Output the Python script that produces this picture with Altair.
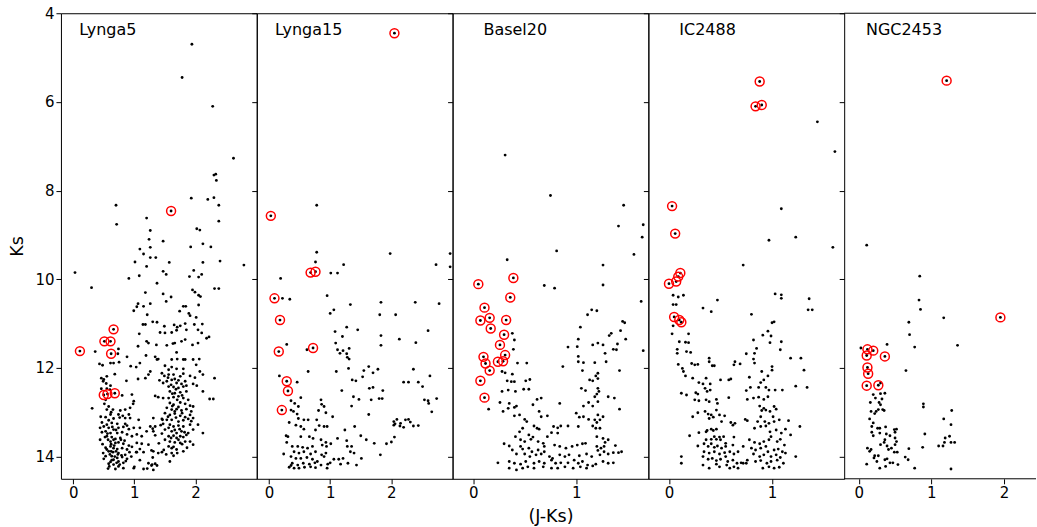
import altair as alt
import pandas as pd

FONT = "DejaVu Sans"
PANEL_H = 466

# ---------------- Lynga5 ----------------
lynga5_stars = [
    (1.94, 4.70), (1.78, 5.45), (2.28, 6.10), (2.62, 7.27), (2.30, 7.65), (2.33, 7.63), (2.34, 7.77),
    (1.93, 8.17), (2.20, 8.20), (2.30, 8.16), (2.38, 8.33), (0.70, 8.33), (0.71, 8.76), (1.20, 8.62),
    (1.26, 8.90), (1.24, 9.10), (2.38, 8.69), (2.02, 8.86), (2.07, 8.89), (1.47, 9.14), (1.09, 9.32),
    (1.26, 9.28), (1.15, 9.43), (2.12, 9.20), (2.25, 9.27), (1.92, 9.27), (1.26, 9.51), (1.35, 9.51),
    (1.57, 9.62), (1.20, 9.71), (1.01, 9.61), (1.97, 9.80), (2.12, 9.62), (2.40, 9.59), (2.79, 9.68),
    (1.47, 9.82), (1.52, 9.89), (1.08, 9.92), (2.05, 9.95), (2.10, 9.89), (1.90, 9.94), (0.91, 9.98),
    (1.37, 10.09), (0.03, 9.85), (0.30, 10.19), (2.31, 10.21), (2.38, 10.21), (1.95, 10.24), (1.99, 10.29),
    (2.05, 10.36), (2.08, 10.39), (1.18, 10.30), (1.47, 10.33), (1.60, 10.40), (1.52, 10.50), (1.06, 10.55),
    (1.04, 10.62), (0.99, 10.71), (1.15, 10.61), (1.26, 10.55), (1.21, 10.80), (1.80, 10.61), (1.84, 10.61),
    (1.74, 10.72), (1.89, 10.77), (1.91, 10.82), (2.05, 10.58), (2.01, 10.86), (1.14, 11.02), (1.18, 11.02),
    (1.30, 10.96), (1.37, 10.97), (1.49, 11.06), (1.65, 11.03), (1.70, 11.08), (1.75, 11.05), (1.83, 11.00),
    (1.98, 11.02), (2.11, 11.01),
    # red giant clump / upper branch
    (1.42, 11.20), (1.50, 11.21), (1.61, 11.20), (1.69, 11.15), (1.85, 11.14), (2.04, 11.14), (2.10, 11.21),
    (2.18, 11.33), (2.22, 11.30), (1.20, 11.40), (1.23, 11.44), (1.36, 11.48), (1.53, 11.49), (1.63, 11.45),
    (1.66, 11.44), (1.77, 11.40), (1.83, 11.36), (1.95, 11.48), (2.04, 11.44), (1.19, 11.72), (1.34, 11.75),
    (1.37, 11.81), (1.39, 11.80), (1.61, 11.81), (1.70, 11.80), (1.80, 11.81), (1.83, 11.81), (1.96, 11.81),
    (2.06, 11.80), (1.69, 11.65), (1.09, 11.89), (2.31, 12.23), (2.01, 11.93), (1.99, 12.22),
    # red sequence
    (1.50, 11.95), (1.61, 11.98), (1.69, 12.02), (1.80, 12.02), (1.56, 12.04), (1.45, 12.12), (1.49, 12.18),
    (1.56, 12.15), (1.64, 12.15), (1.75, 12.19), (1.80, 12.13), (1.91, 12.18), (2.07, 12.08), (2.12, 12.15),
    (1.26, 12.08), (1.18, 12.23), (1.23, 12.15), (1.41, 12.28), (1.47, 12.34), (1.53, 12.30), (1.61, 12.27),
    (1.69, 12.34), (1.77, 12.36), (1.83, 12.30), (1.96, 12.36), (2.02, 12.40), (1.56, 12.42), (1.64, 12.43),
    (1.72, 12.45), (1.80, 12.42), (1.58, 12.53), (1.66, 12.57), (1.75, 12.55), (1.85, 12.53), (1.34, 12.63),
    (1.39, 12.66), (1.47, 12.68), (1.56, 12.68), (1.64, 12.66), (1.72, 12.64), (1.80, 12.68), (2.12, 12.53),
    (2.23, 12.70), (2.29, 12.70), (1.58, 12.79), (1.64, 12.83), (1.75, 12.78), (1.83, 12.81), (1.91, 12.85),
    (1.53, 12.90), (1.61, 12.94), (1.69, 12.93), (1.77, 12.96), (1.85, 12.93), (1.93, 12.98), (1.96, 12.87),
    (1.50, 13.02), (1.58, 13.06), (1.66, 13.03), (1.75, 13.08), (1.83, 13.11), (1.91, 13.06), (1.45, 13.15),
    (1.53, 13.17), (1.61, 13.17), (1.72, 13.21), (1.80, 13.18), (1.88, 13.15), (1.96, 13.13), (1.31, 13.13),
    (1.26, 13.32), (1.34, 13.32), (1.47, 13.26), (1.58, 13.28), (1.64, 13.32), (1.72, 13.30), (1.80, 13.32),
    (1.91, 13.28), (2.04, 13.28), (1.20, 13.43), (1.31, 13.43), (1.50, 13.39), (1.61, 13.43), (1.69, 13.47),
    (1.77, 13.43), (1.88, 13.47), (1.96, 13.39), (2.12, 13.47), (1.56, 13.54), (1.64, 13.53), (1.69, 13.58),
    (1.75, 13.54), (1.80, 13.56), (1.85, 13.51), (1.50, 13.62), (1.58, 13.66), (1.66, 13.68), (1.75, 13.69),
    (1.83, 13.66), (1.91, 13.66), (1.96, 13.73), (1.23, 13.73), (1.12, 13.71), (1.56, 13.77), (1.61, 13.81),
    (1.69, 13.84), (1.80, 13.88), (1.31, 13.88), (1.39, 13.92), (1.45, 13.90), (1.61, 13.92), (1.64, 13.98),
    (1.58, 14.11), (1.23, 14.15), (1.29, 14.18), (1.34, 14.16), (1.31, 14.30),
    (1.55, 12.22), (1.66, 12.25), (1.72, 12.28), (1.60, 12.38), (1.68, 12.48), (1.62, 12.58), (1.78, 12.62),
    (1.70, 12.72), (1.62, 12.86), (1.72, 12.88), (1.66, 12.98), (1.78, 13.02), (1.55, 13.10), (1.68, 13.12),
    (1.74, 13.38), (1.56, 13.35), (1.66, 13.40), (1.82, 13.45), (1.60, 13.58), (1.72, 13.62), (1.78, 13.72),
    (1.64, 13.78), (1.70, 13.92), (1.52, 13.95), (1.86, 13.80), (1.45, 13.48), (1.40, 13.70), (1.48, 13.85),
    (1.88, 12.72), (1.93, 13.20), (1.85, 12.40),
    (1.15, 14.28), (1.21, 14.27), (1.28, 14.20), (1.37, 14.20), (1.30, 14.02), (1.09, 14.08), (1.00, 14.23),
    (1.03, 13.90), (1.09, 13.83), (1.15, 13.90), (1.28, 13.86), (1.30, 13.37), (1.34, 13.52), (1.43, 13.29),
    (1.46, 13.17), (1.09, 13.35), (1.12, 13.54),
    # blue main sequence
    (1.08, 11.23), (1.06, 11.51), (0.36, 11.63), (0.74, 11.57), (0.73, 11.68), (0.88, 11.75), (0.43, 11.91),
    (0.48, 11.94), (0.61, 11.89), (0.66, 11.89), (0.75, 11.87), (0.94, 11.96), (1.03, 11.98), (0.68, 12.14),
    (1.06, 12.25), (0.87, 12.29), (0.55, 12.19), (0.46, 12.23), (0.50, 12.26), (0.49, 12.30), (0.54, 12.35),
    (0.61, 12.40), (0.46, 12.47), (0.55, 12.47), (0.60, 12.49), (0.96, 12.60), (0.80, 12.62), (0.53, 12.72),
    (0.51, 12.81), (0.58, 12.87), (0.31, 12.91), (0.55, 12.94), (0.65, 12.94), (0.77, 12.96), (0.85, 12.94),
    (0.93, 12.90), (0.98, 12.81), (0.99, 12.75), (0.61, 13.05), (0.74, 13.05), (0.81, 13.08), (0.91, 13.05),
    (0.53, 13.11), (0.66, 13.14), (0.85, 13.13), (0.93, 13.13), (1.07, 13.17), (0.47, 13.23), (0.55, 13.28),
    (0.63, 13.24), (0.72, 13.26), (0.85, 13.26), (0.50, 13.32), (0.44, 13.35), (0.58, 13.35), (0.66, 13.39),
    (0.74, 13.35), (0.82, 13.33), (0.91, 13.38), (0.99, 13.35), (0.53, 13.43), (0.61, 13.47), (0.72, 13.47),
    (0.80, 13.45), (0.88, 13.50), (0.96, 13.54), (1.04, 13.50), (0.44, 13.62), (0.55, 13.54), (0.63, 13.56),
    (0.69, 13.60), (0.77, 13.58), (0.61, 13.66), (0.69, 13.69), (0.74, 13.68), (0.82, 13.71), (0.91, 13.75),
    (1.04, 13.69), (0.61, 13.77), (0.66, 13.81), (0.72, 13.83), (0.80, 13.81), (0.88, 13.84), (0.96, 13.78),
    (0.49, 13.92), (0.58, 13.88), (0.65, 13.90), (0.74, 13.92), (0.85, 13.96), (1.04, 13.90), (0.53, 13.99),
    (0.63, 13.99), (0.72, 14.03), (0.80, 14.01), (0.88, 14.05), (0.66, 14.07), (0.74, 14.11), (0.82, 14.14),
    (0.58, 14.16), (0.66, 14.18), (0.74, 14.22), (0.82, 14.26), (0.99, 14.26),
    (0.57, 13.62), (0.62, 13.72), (0.67, 13.75), (0.70, 13.88), (0.60, 13.95), (0.68, 14.00), (0.63, 14.08),
    (0.71, 14.14), (0.59, 14.22), (0.69, 14.28), (0.76, 14.18), (0.55, 13.84), (0.52, 13.56), (0.64, 13.33),
    (0.58, 13.18), (0.70, 13.40), (0.78, 13.62), (0.62, 13.00), (0.56, 13.48), (0.66, 13.62), (0.73, 13.95),
    (0.61, 14.12), (0.48, 13.72), (0.53, 13.80), (0.50, 14.05), (0.57, 14.27), (0.79, 13.97), (0.84, 13.64),
    (0.88, 13.30), (0.76, 13.12), (0.86, 14.10), (0.95, 14.00), (0.92, 13.90), (0.47, 13.45), (0.45, 13.10),
    (0.62, 13.88),
]
lynga5_flagged = [
    (1.60, 8.46), (0.66, 11.13), (0.51, 11.40), (0.61, 11.40), (0.11, 11.62), (0.62, 11.68),
    (0.50, 12.61), (0.56, 12.59), (0.68, 12.57),
]

# ---------------- Lynga15 ----------------
lynga15_stars = [
    (0.78, 8.33), (0.78, 9.39), (0.76, 9.61), (0.19, 9.98), (1.01, 9.86), (1.12, 9.86), (1.22, 9.67),
    (1.98, 9.42), (2.96, 9.42), (2.96, 9.72), (2.73, 9.67), (0.22, 10.43), (0.34, 10.45), (0.95, 10.37),
    (1.33, 10.57), (1.06, 10.69), (1.00, 10.77), (1.83, 10.52), (1.81, 10.80), (2.07, 10.80), (2.39, 10.52),
    (2.78, 10.55), (1.27, 11.08), (1.20, 11.29), (1.45, 11.14), (1.08, 11.18), (1.83, 11.27), (2.60, 11.16),
    (0.29, 11.47), (0.62, 11.59), (1.09, 11.44), (1.83, 11.49), (2.40, 11.43), (2.13, 11.35),
    (1.12, 11.59), (1.16, 11.67), (1.21, 11.61), (1.31, 11.56), (1.27, 11.68), (1.28, 11.76), (1.31, 11.80),
    (1.10, 12.08), (0.64, 12.08), (1.30, 12.01), (1.63, 11.97), (1.55, 12.06), (1.53, 12.20), (1.70, 12.11),
    (1.78, 12.03), (2.36, 12.03), (2.63, 12.18), (1.36, 12.27), (1.42, 12.29), (2.20, 12.32), (2.28, 12.32),
    (2.44, 12.32), (2.51, 12.42), (1.19, 12.51), (1.64, 12.46), (1.70, 12.44), (1.86, 12.51), (1.38, 12.65),
    (1.47, 12.71), (1.67, 12.72), (1.80, 12.69), (1.85, 12.69), (1.35, 12.86), (2.54, 12.72), (2.60, 12.74),
    (2.61, 12.80), (2.74, 12.69), (2.66, 12.99), (1.63, 13.05), (0.46, 12.32), (0.17, 12.18), (0.36, 12.74),
    (0.42, 12.80), (0.52, 12.67), (0.48, 12.87), (0.85, 12.72), (0.86, 12.82), (0.90, 12.87), (0.81, 12.96),
    (0.93, 13.01), (1.04, 13.10), (0.36, 12.95), (0.40, 12.98), (0.46, 13.04), (0.48, 13.14), (0.57, 13.17),
    (0.64, 13.17), (0.33, 13.23), (0.44, 13.29), (0.52, 13.32), (0.57, 13.38), (0.78, 13.17), (0.82, 13.30),
    (0.90, 13.32), (0.95, 13.32), (0.76, 13.40), (1.24, 13.40), (1.40, 13.32), (1.50, 13.53), (1.59, 13.62),
    (1.72, 13.70), (1.92, 13.71), (2.00, 13.67), (2.05, 13.56), (2.04, 13.29), (2.04, 13.21), (2.09, 13.16),
    (2.15, 13.25), (2.20, 13.34), (2.28, 13.16), (2.31, 13.22), (2.36, 13.31), (2.44, 13.30), (2.23, 13.17),
    (2.14, 13.31), (2.06, 13.26), (0.28, 13.53), (0.31, 13.55), (0.52, 13.55), (0.66, 13.55), (0.72, 13.59),
    (0.85, 13.62), (0.93, 13.68), (1.01, 13.71), (1.12, 13.59), (1.27, 13.64), (1.28, 13.77), (0.29, 13.68),
    (0.38, 13.77), (0.47, 13.77), (0.55, 13.79), (0.63, 13.81), (0.71, 13.77), (0.87, 13.74), (0.94, 13.77),
    (1.35, 13.77), (1.33, 13.89), (0.41, 13.89), (0.49, 13.92), (0.57, 13.89), (0.68, 13.94), (0.76, 13.89),
    (0.86, 13.96), (0.93, 13.92), (0.24, 13.94), (1.39, 13.92), (1.82, 13.96), (0.36, 14.00), (0.44, 14.04),
    (0.52, 14.04), (0.62, 14.02), (0.71, 14.06), (0.79, 14.11), (0.90, 14.00), (1.06, 14.06), (1.14, 14.06),
    (1.21, 14.04), (1.51, 14.04), (0.38, 14.15), (0.47, 14.19), (0.56, 14.15), (0.66, 14.17), (0.75, 14.14),
    (0.85, 14.19), (0.96, 14.17), (1.00, 14.14), (1.17, 14.17), (1.29, 14.15), (1.43, 14.19), (0.33, 14.24),
    (0.41, 14.26), (0.49, 14.26), (0.58, 14.24), (0.68, 14.23), (0.76, 14.25), (0.95, 14.26), (0.36, 14.20),
]
lynga15_flagged = [
    (2.05, 4.45), (0.03, 8.57), (0.68, 9.85), (0.76, 9.83), (0.09, 10.43), (0.18, 10.92),
    (0.16, 11.63), (0.72, 11.55), (0.29, 12.30), (0.31, 12.52), (0.21, 12.95),
]

# ---------------- Basel20 ----------------
basel20_stars = [
    (0.31, 7.20), (0.75, 8.11), (1.46, 8.33), (0.81, 9.36), (0.33, 9.56), (1.41, 8.80), (1.65, 8.77),
    (1.64, 9.05), (1.56, 9.44), (1.26, 9.68), (1.26, 10.13), (0.69, 10.14), (0.79, 10.20),
    (1.63, 10.50), (1.15, 10.69), (1.20, 10.71), (1.11, 10.80), (1.04, 11.08), (1.45, 10.95), (1.47, 10.98),
    (1.43, 11.16), (1.34, 11.22), (1.32, 11.27), (1.02, 11.35), (1.48, 11.35), (1.21, 11.44), (1.16, 11.48),
    (1.26, 11.48), (1.40, 11.46), (0.92, 11.53), (1.01, 11.52), (1.36, 11.58), (1.39, 11.59), (1.28, 11.67),
    (1.65, 11.61), (0.39, 11.58), (1.02, 11.74), (1.02, 11.86), (1.07, 11.88), (1.18, 11.88), (1.29, 11.86),
    (0.43, 11.89), (0.52, 11.89), (0.87, 11.97), (1.06, 12.06), (1.21, 12.12), (1.19, 12.18), (1.21, 12.24),
    (1.16, 12.29), (1.13, 12.27), (1.42, 12.06), (0.28, 12.08), (0.31, 12.11), (0.38, 12.14), (0.37, 12.31),
    (0.33, 12.29), (0.40, 12.31), (0.51, 12.29), (0.55, 12.26), (1.05, 12.46), (1.09, 12.51), (1.21, 12.46),
    (1.22, 12.53), (1.20, 12.59), (0.49, 12.48), (0.54, 12.48), (0.28, 12.53), (0.34, 12.50), (0.41, 12.53),
    (1.31, 12.65), (1.37, 12.68), (0.62, 12.71), (0.66, 12.68), (1.18, 12.65), (1.12, 12.78), (1.21, 12.76),
    (1.16, 12.86), (1.07, 12.86), (1.42, 12.93), (0.26, 12.78), (0.35, 12.80), (0.42, 12.86), (0.34, 12.91),
    (0.40, 12.89), (0.58, 12.83), (0.84, 12.80), (0.15, 12.93), (0.29, 12.98), (0.64, 12.98), (0.72, 13.08),
    (0.66, 13.10), (0.40, 13.08), (0.45, 13.06), (1.00, 13.02), (1.03, 13.11), (1.07, 13.10), (1.12, 13.16),
    (1.18, 13.17), (1.21, 13.06), (1.16, 13.31), (1.20, 13.23), (1.23, 13.17), (1.26, 13.10), (0.50, 13.16),
    (0.52, 13.21), (0.59, 13.31), (0.62, 13.36), (0.64, 13.38), (0.82, 13.35), (0.85, 13.31), (0.78, 13.32),
    (0.92, 13.31), (1.02, 13.32), (1.19, 13.36), (1.23, 13.36), (0.48, 13.36), (0.45, 13.44), (0.41, 13.55),
    (0.54, 13.51), (0.58, 13.56), (0.46, 13.62), (0.50, 13.66), (0.56, 13.61), (0.63, 13.66), (0.68, 13.70),
    (0.72, 13.55), (0.76, 13.46), (0.82, 13.47), (1.20, 13.55), (1.26, 13.59), (1.28, 13.68), (1.31, 13.62),
    (1.38, 13.75), (0.30, 13.71), (0.35, 13.76), (0.38, 13.85), (0.46, 13.77), (0.48, 13.83), (0.54, 13.81),
    (0.57, 13.89), (0.63, 13.85), (0.69, 13.77), (0.69, 13.89), (0.79, 13.74), (0.84, 13.77), (0.90, 13.81),
    (0.96, 13.77), (1.01, 13.74), (1.06, 13.71), (1.09, 13.70), (1.20, 13.77), (1.24, 13.81), (1.27, 13.77),
    (1.21, 13.86), (1.27, 13.89), (1.36, 13.91), (1.41, 13.91), (1.44, 13.89), (0.42, 13.94), (0.50, 13.94),
    (0.55, 14.00), (0.61, 13.96), (0.66, 13.94), (0.74, 14.00), (0.77, 14.04), (0.84, 13.96), (0.89, 14.00),
    (0.93, 13.96), (1.03, 13.98), (1.10, 13.94), (1.15, 14.00), (1.23, 13.96), (1.31, 13.94), (0.24, 14.14),
    (0.35, 14.11), (0.40, 14.15), (0.46, 14.17), (0.51, 14.11), (0.59, 14.15), (0.64, 14.11), (0.69, 14.15),
    (0.76, 14.08), (0.80, 14.15), (0.85, 14.14), (0.92, 14.14), (0.98, 14.08), (1.02, 14.15), (1.06, 14.11),
    (1.11, 14.19), (1.19, 14.17), (1.26, 14.11), (1.31, 14.15), (1.36, 14.14), (0.35, 14.26), (0.42, 14.30),
    (0.48, 14.26), (0.53, 14.23), (0.59, 14.26), (0.68, 14.23), (0.76, 14.26), (0.82, 14.26), (0.89, 14.23),
    (0.97, 14.26), (1.04, 14.23), (1.10, 14.26), (1.16, 14.21), (0.40, 11.37), (0.38, 11.22),
]
basel20_flagged = [
    (0.05, 10.11), (0.39, 9.97), (0.36, 10.41), (0.11, 10.64), (0.07, 10.93), (0.16, 10.87),
    (0.32, 10.92), (0.17, 11.11), (0.30, 11.25), (0.26, 11.48), (0.31, 11.71), (0.10, 11.75),
    (0.12, 11.90), (0.24, 11.86), (0.29, 11.85), (0.16, 12.06), (0.07, 12.29), (0.11, 12.67),
]

# ---------------- IC2488 ----------------
ic2488_stars = [
    (1.44, 6.45), (1.61, 7.12), (1.09, 8.41), (0.97, 9.12), (1.23, 9.05), (1.59, 9.28), (0.72, 9.68),
    (0.04, 10.36), (0.09, 10.40), (0.14, 10.36), (1.03, 10.33), (1.09, 10.35), (1.09, 10.43), (1.36, 10.44),
    (0.04, 10.57), (0.07, 10.57), (0.33, 10.65), (0.41, 10.73), (0.47, 10.47), (0.80, 10.79), (1.35, 10.69),
    (1.39, 10.69), (0.04, 11.05), (0.03, 11.23), (0.19, 11.23), (0.10, 11.41), (0.16, 11.42), (0.19, 11.43),
    (0.08, 11.58), (0.08, 11.67), (0.17, 11.63), (0.21, 11.65), (0.09, 11.92), (0.13, 12.01), (0.14, 12.08),
    (0.22, 11.90), (0.25, 11.93), (0.28, 11.92), (0.39, 11.78), (0.39, 11.86), (0.42, 11.95), (0.44, 11.95),
    (0.16, 12.18), (0.23, 12.23), (0.29, 12.33), (0.33, 12.36), (0.36, 12.23), (0.40, 12.36), (0.35, 12.46),
    (0.50, 12.27), (0.58, 12.27), (0.60, 12.25), (0.12, 12.57), (0.17, 12.61), (0.26, 12.56), (0.28, 12.59),
    (0.37, 12.53), (0.40, 12.50), (0.25, 12.72), (0.29, 12.74), (0.36, 12.72), (0.39, 12.76), (0.46, 12.71),
    (0.47, 12.80), (0.58, 12.67), (0.23, 13.10), (0.28, 13.01), (0.35, 12.98), (0.38, 13.04), (0.41, 13.06),
    (0.46, 12.95), (0.49, 13.06), (0.54, 13.08), (0.39, 13.14), (0.43, 13.11), (0.20, 13.53), (0.29, 13.46),
    (0.36, 13.44), (0.37, 13.41), (0.41, 13.38), (0.43, 13.41), (0.46, 13.38), (0.51, 13.21), (0.60, 13.23),
    (0.62, 13.29), (0.64, 13.25), (0.44, 13.55), (0.49, 13.56), (0.53, 13.55), (0.36, 13.62), (0.41, 13.61),
    (0.46, 13.61), (0.50, 13.62), (0.55, 13.70), (0.63, 13.56), (0.28, 13.76), (0.34, 13.71), (0.38, 13.77),
    (0.41, 13.71), (0.44, 13.79), (0.47, 13.76), (0.51, 13.81), (0.55, 13.77), (0.62, 13.74), (0.72, 13.77),
    (0.34, 13.89), (0.39, 13.92), (0.44, 13.89), (0.49, 13.94), (0.54, 13.91), (0.59, 13.89), (0.63, 13.94),
    (0.67, 13.89), (0.12, 14.00), (0.12, 14.15), (0.33, 14.00), (0.38, 14.06), (0.42, 14.04), (0.46, 14.09),
    (0.50, 14.06), (0.55, 14.00), (0.57, 14.11), (0.62, 14.08), (0.66, 14.15), (0.70, 14.14), (0.75, 14.15),
    (0.33, 14.19), (0.39, 14.26), (0.46, 14.17), (0.49, 14.23), (0.56, 14.19), (0.59, 14.26), (0.63, 14.23),
    (0.67, 14.26),
    (1.00, 10.98), (1.02, 10.96), (0.96, 11.17), (0.91, 11.26), (0.99, 11.28), (0.98, 11.43), (1.09, 11.41),
    (0.82, 11.37), (0.85, 11.56), (1.08, 11.59), (0.75, 11.68), (0.83, 11.67), (0.82, 11.80), (0.83, 11.89),
    (1.18, 11.78), (1.28, 11.78), (0.64, 11.86), (0.63, 11.93), (0.69, 11.91), (0.90, 12.08), (1.00, 11.97),
    (1.00, 12.05), (1.31, 12.05), (0.96, 12.18), (0.92, 12.27), (0.78, 12.21), (0.89, 12.33), (0.87, 12.44),
    (0.94, 12.44), (0.97, 12.50), (1.03, 12.50), (0.75, 12.51), (0.79, 12.44), (1.23, 12.41), (1.34, 12.44),
    (1.10, 12.50), (0.76, 12.71), (0.82, 12.68), (0.87, 12.66), (0.92, 12.71), (0.96, 12.65), (0.88, 12.86),
    (0.92, 12.91), (0.90, 12.96), (0.94, 12.95), (0.98, 12.98), (1.04, 12.93), (1.02, 12.87), (0.74, 13.16),
    (0.76, 13.19), (0.89, 13.10), (0.86, 13.21), (0.93, 13.21), (0.97, 13.25), (1.02, 13.21), (1.07, 13.17),
    (1.16, 13.19), (1.01, 13.10), (0.83, 13.36), (0.89, 13.32), (0.94, 13.31), (0.98, 13.44), (1.04, 13.40),
    (1.09, 13.47), (1.13, 13.38), (1.18, 13.51), (1.27, 13.32), (0.78, 13.62), (0.83, 13.68), (0.88, 13.71),
    (0.92, 13.66), (0.97, 13.62), (0.99, 13.55), (1.05, 13.66), (1.08, 13.61), (1.12, 13.74), (0.80, 13.81),
    (0.84, 13.85), (0.89, 13.81), (0.94, 13.77), (0.96, 13.89), (1.02, 13.85), (1.06, 13.83), (1.10, 13.89),
    (1.23, 14.00), (0.82, 13.94), (0.88, 14.00), (0.92, 13.96), (0.99, 14.00), (1.04, 13.96), (1.08, 14.02),
    (1.13, 13.92), (0.84, 14.11), (0.89, 14.09), (0.95, 14.15), (0.99, 14.11), (1.05, 14.08), (1.11, 14.15),
    (0.91, 14.26), (0.97, 14.23), (1.02, 14.26), (1.07, 14.24), (0.76, 14.08), (0.72, 14.15),
]
ic2488_flagged = [
    (0.88, 5.54), (0.84, 6.10), (0.90, 6.07), (0.03, 8.35), (0.06, 8.97), (0.11, 9.86),
    (0.09, 9.94), (0.07, 10.05), (0.00, 10.10), (0.05, 10.85), (0.10, 10.92), (0.12, 10.97),
]

# ---------------- NGC2453 ----------------
ngc2453_stars = [
    (0.11, 9.23), (0.84, 9.93), (0.83, 10.47), (0.85, 10.68), (1.17, 10.87), (0.69, 10.97),
    (0.70, 11.25), (0.39, 11.47), (0.77, 11.53), (1.36, 11.49), (0.03, 11.55), (0.65, 12.06), (0.30, 12.34),
    (0.20, 12.60), (0.23, 12.68), (0.30, 12.58), (0.36, 12.57), (0.32, 12.70), (0.16, 12.78), (0.28, 12.78),
    (0.30, 12.83), (0.27, 12.94), (0.33, 12.94), (0.35, 12.96), (0.24, 12.98), (0.22, 13.03), (0.17, 12.98),
    (0.89, 12.81), (0.89, 12.88), (1.28, 12.96), (1.17, 13.15), (1.27, 13.28), (0.15, 13.15), (0.20, 13.24),
    (0.18, 13.32), (0.26, 13.36), (0.29, 13.36), (0.37, 13.33), (0.49, 13.39), (0.52, 13.38), (0.50, 13.45),
    (0.91, 13.49), (0.18, 13.45), (0.20, 13.53), (0.29, 13.47), (0.38, 13.49), (0.43, 13.53), (0.36, 13.62),
    (0.50, 13.58), (0.52, 13.66), (0.30, 13.73), (0.35, 13.68), (0.39, 13.76), (0.45, 13.81), (0.50, 13.73),
    (0.69, 13.82), (0.88, 13.79), (1.10, 13.76), (1.16, 13.76), (1.19, 13.58), (1.25, 13.54), (1.18, 13.68),
    (1.27, 13.68), (1.32, 13.68), (0.12, 13.81), (0.15, 13.88), (0.17, 13.84), (0.22, 13.98), (0.27, 13.98),
    (0.21, 14.03), (0.25, 14.11), (0.36, 14.07), (0.39, 14.05), (0.43, 14.14), (0.47, 14.14), (0.54, 14.18),
    (0.49, 13.90), (0.53, 13.90), (0.41, 13.84), (0.64, 14.01), (0.68, 14.07), (0.11, 14.17), (0.29, 14.26),
    (0.37, 14.22), (0.77, 14.26), (1.27, 14.28),
]
ngc2453_flagged = [
    (1.21, 5.52), (1.95, 10.86), (0.12, 11.58), (0.20, 11.61), (0.11, 11.72), (0.36, 11.74),
    (0.12, 11.99), (0.13, 12.13), (0.11, 12.40), (0.27, 12.39),
]

clusters = [
    ("Lynga5", lynga5_stars, lynga5_flagged, [-0.2, 3.0], [0, 1, 2], 196),
    ("Lynga15", lynga15_stars, lynga15_flagged, [-0.2, 3.0], [0, 1, 2], 196),
    ("Basel20", basel20_stars, basel20_flagged, [-0.2, 1.7], [0, 1], 196),
    ("IC2488", ic2488_stars, ic2488_flagged, [-0.2, 1.7], [0, 1], 196),
    ("NGC2453", ngc2453_stars, ngc2453_flagged, [-0.2, 2.44], [0, 1, 2], 192),
]
ks_ticks = [4, 6, 8, 10, 12, 14]


def cmd_panel(i, name, stars, flagged, x_domain, x_ticks, width):
    dots = pd.DataFrame(stars + flagged, columns=["jk", "ks"])
    rings = pd.DataFrame(flagged, columns=["jk", "ks"])
    label = pd.DataFrame({"jk": [0.1], "ks": [4.5], "name": [name]})

    x_axis = alt.Axis(values=x_ticks, format="d", title="(J-Ks)" if i == 2 else None,
                      domain=False, titlePadding=7)
    y_axis = alt.Axis(values=ks_ticks, format="d", title="Ks" if i == 0 else None,
                      labels=(i == 0), domain=False, titlePadding=8)
    x = alt.X("jk:Q", scale=alt.Scale(domain=x_domain, nice=False, zero=False), axis=x_axis)
    y = alt.Y("ks:Q", scale=alt.Scale(domain=[4, 14.5], nice=False, zero=False, reverse=True),
              axis=y_axis)

    layers = [
        alt.Chart(dots).mark_circle(size=8, color="black", opacity=1).encode(x=x, y=y),
        alt.Chart(rings).mark_point(shape="circle", size=80, color="red", strokeWidth=1.5,
                                    filled=False, opacity=1).encode(x=x, y=y),
        alt.Chart(label).mark_text(align="left", baseline="alphabetic", font=FONT, fontSize=16,
                                   color="black").encode(x=x, y=y, text="name:N"),
    ]
    props = dict(width=width, height=PANEL_H)
    if i == len(clusters) - 1:
        # last panel is open on the right: frame only top and bottom
        edge = pd.DataFrame({"jk": [x_domain[0]], "ks": [4.0]})
        layers.append(alt.Chart(edge).mark_rule(color="black", strokeWidth=1).encode(
            x=alt.value(0), x2=alt.value(width), y=alt.value(0)))
        layers.append(alt.Chart(edge).mark_rule(color="black", strokeWidth=1).encode(
            x=alt.value(0), x2=alt.value(width), y=alt.value(PANEL_H)))
        props["view"] = alt.ViewBackground(stroke=None)
    return alt.layer(*layers).properties(**props)


panels = [cmd_panel(i, *c) for i, c in enumerate(clusters)]

chart = alt.hconcat(*panels, spacing=0, bounds="flush").properties(
    padding={"left": 8, "top": 5, "right": 0, "bottom": 0}
).configure_view(stroke="black", strokeWidth=1).configure_axis(
    grid=False, tickColor="black", tickSize=5, tickWidth=1, labelPadding=2,
    labelColor="black", titleColor="black", labelFont=FONT, titleFont=FONT,
    labelFontSize=15, titleFontSize=17.5, titleFontWeight="normal",
)

chart.save("out.html", embed_options={"renderer": "svg", "actions": False})
